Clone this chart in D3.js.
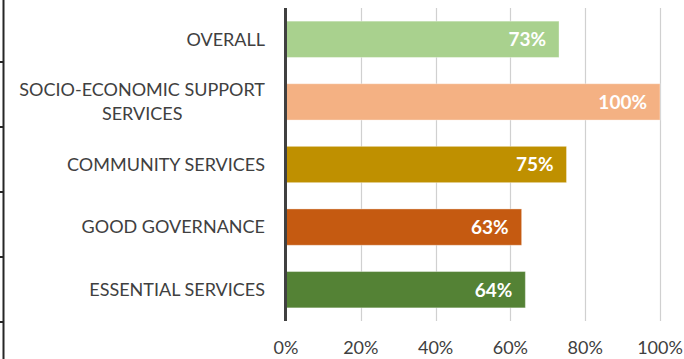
<!DOCTYPE html>
<html>
<head>
<meta charset="utf-8">
<script src="https://cdn.jsdelivr.net/npm/d3@7"></script>
<style>
  html, body { margin: 0; padding: 0; background: #fff; }
  svg { display: block; }
</style>
</head>
<body>
<svg id="chart" width="684" height="359"></svg>
<script>
// Service categories, top to bottom
const categories = [
  "OVERALL",
  "SOCIO-ECONOMIC SUPPORT SERVICES",
  "COMMUNITY SERVICES",
  "GOOD GOVERNANCE",
  "ESSENTIAL SERVICES"
];
// Category label lines (wrapped where the label is long)
const labelLines = [
  ["OVERALL"],
  ["SOCIO-ECONOMIC SUPPORT", "SERVICES"],
  ["COMMUNITY SERVICES"],
  ["GOOD GOVERNANCE"],
  ["ESSENTIAL SERVICES"]
];
// Score per category, in percent
const values = [73, 100, 75, 63, 64];
const barColors = ["#a9d18e", "#f4b183", "#bf9000", "#c55a11", "#548235"];
const tickValues = [0, 20, 40, 60, 80, 100];

const font = "Lato, 'Open Sans', sans-serif";
const svg = d3.select("#chart");

const x = d3.scaleLinear().domain([0, 100]).range([286, 660]);
const y = d3.scaleBand().domain(categories).range([8, 321]).paddingInner(0.42).paddingOuter(0.21);

// Fragment of a neighbouring axis at the far left edge
const leftAxis = svg.append("g");
leftAxis.append("line")
  .attr("x1", 3.5).attr("x2", 3.5).attr("y1", 0).attr("y2", 359)
  .attr("stroke", "#262626").attr("stroke-width", 2);
leftAxis.selectAll("line.tk")
  .data([62, 127, 192, 257, 322])
  .join("line").attr("class", "tk")
  .attr("x1", 0).attr("x2", 4).attr("y1", d => d).attr("y2", d => d)
  .attr("stroke", "#262626").attr("stroke-width", 2);

// Vertical gridlines
svg.append("g")
  .selectAll("line")
  .data(tickValues.slice(1))
  .join("line")
  .attr("x1", d => Math.round(x(d)) + 0.5)
  .attr("x2", d => Math.round(x(d)) + 0.5)
  .attr("y1", 8).attr("y2", 321)
  .attr("stroke", "#d0d0d0").attr("stroke-width", 1.2);

// Bars
svg.append("g")
  .selectAll("rect")
  .data(values)
  .join("rect")
  .attr("x", x(0))
  .attr("y", (d, i) => y(categories[i]))
  .attr("width", d => x(d) - x(0))
  .attr("height", y.bandwidth())
  .attr("fill", (d, i) => barColors[i])
  .attr("stroke", "rgba(255,255,255,0.35)")
  .attr("stroke-width", 1);

// Value labels inside the bar ends
svg.append("g")
  .selectAll("text")
  .data(values)
  .join("text")
  .attr("x", d => x(d) - 13)
  .attr("y", (d, i) => y(categories[i]) + y.bandwidth() / 2)
  .attr("dy", "0.36em")
  .attr("text-anchor", "end")
  .attr("fill", "#fff")
  .attr("font-family", font)
  .attr("font-weight", "bold")
  .attr("font-size", 19)
  .text(d => d + "%");

// Vertical axis line at 0%
svg.append("line")
  .attr("x1", x(0) - 0.5).attr("x2", x(0) - 0.5)
  .attr("y1", 8).attr("y2", 321)
  .attr("stroke", "#404040").attr("stroke-width", 3);

// Category labels: single lines end at the axis gap, wrapped lines are centred as a block
const catG = svg.append("g");
const labelRight = 265;
labelLines.forEach((lines, i) => {
  const cy = y(categories[i]) + y.bandwidth() / 2;
  const lh = 24;
  const t = catG.append("text")
    .attr("fill", "#404040")
    .attr("font-family", font)
    .attr("font-size", 18);
  if (lines.length === 1) {
    t.attr("text-anchor", "end")
      .attr("x", labelRight).attr("y", cy).attr("dy", "0.35em")
      .text(lines[0]);
  } else {
    // measure the widest line so the block stays right-aligned
    const probe = t.append("tspan").text(lines[0]);
    const w = probe.node().getComputedTextLength();
    probe.remove();
    const cx = labelRight - w / 2;
    t.attr("text-anchor", "middle");
    lines.forEach((ln, j) => {
      t.append("tspan")
        .attr("x", cx)
        .attr("y", cy + (j - (lines.length - 1) / 2) * lh)
        .attr("dy", "0.35em")
        .text(ln);
    });
  }
});

// Percentage axis labels
svg.append("g")
  .selectAll("text")
  .data(tickValues)
  .join("text")
  .attr("x", d => x(d))
  .attr("y", 348)
  .attr("dy", "0.35em")
  .attr("text-anchor", "middle")
  .attr("fill", "#404040")
  .attr("font-family", font)
  .attr("font-size", 18)
  .text(d => d + "%");
</script>
</body>
</html>
